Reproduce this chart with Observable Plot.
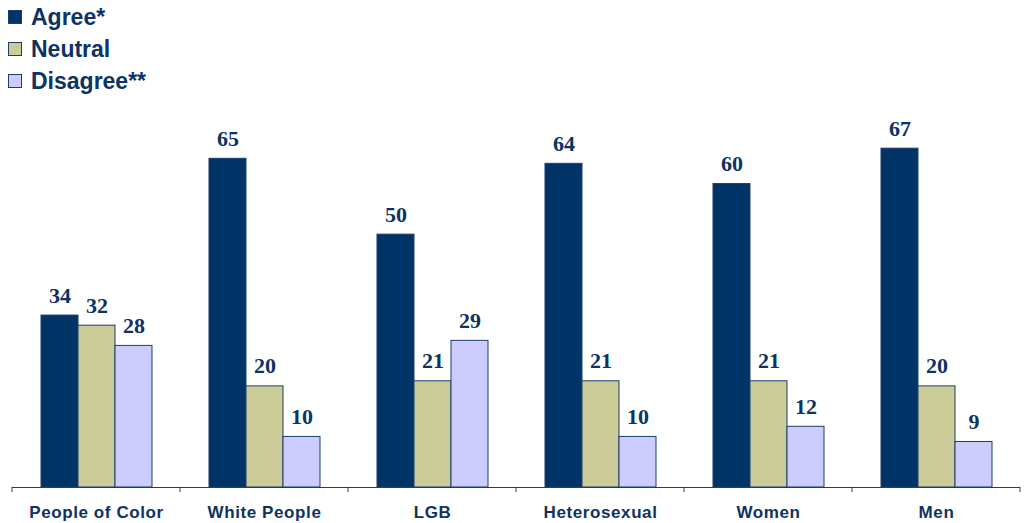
<!DOCTYPE html>
<html>
<head>
<meta charset="utf-8">
<script src="https://cdn.jsdelivr.net/npm/d3@7"></script>
<script src="https://cdn.jsdelivr.net/npm/@observablehq/plot@0.6"></script>
<style>
  html, body { margin: 0; padding: 0; background: #fff; }
  #legend { position: relative; height: 100px; width: 1025px; font-family: "Liberation Sans", Arial, sans-serif; }
  .sw { position: absolute; left: 8px; width: 12px; height: 12px; border: 1px solid #1d3d6b; }
  .lab { position: absolute; left: 31px; font-weight: bold; font-size: 23px; color: #0e3263; white-space: nowrap; line-height: 24px; }
</style>
</head>
<body>
<div id="legend"></div>
<div id="chart"></div>
<script>
const categories = ["People of Color", "White People", "LGB", "Heterosexual", "Women", "Men"];
const series = ["Agree*", "Neutral", "Disagree**"];
const agree = [34, 65, 50, 64, 60, 67];
const neutral = [32, 20, 21, 21, 21, 20];
const disagree = [28, 10, 29, 10, 12, 9];
const colors = ["#003366", "#CCCC99", "#CCCCFF"];

const values = [agree, neutral, disagree];
const data = categories.flatMap((c, i) => series.map((s, j) => ({category: c, series: s, value: values[j][i]})));

// legend
const legend = document.getElementById("legend");
const legendY = [17, 49, 81];
series.forEach((s, j) => {
  const sw = document.createElement("div");
  sw.className = "sw";
  sw.style.top = (legendY[j] - 7) + "px";
  sw.style.background = colors[j];
  legend.appendChild(sw);
  const lab = document.createElement("div");
  lab.className = "lab";
  lab.style.top = (legendY[j] - 12) + "px";
  lab.textContent = s;
  legend.appendChild(lab);
});

const navy = "#0e3263";
const plot = Plot.plot({
  width: 1025,
  height: 423,
  marginLeft: 12,
  marginRight: 5,
  marginTop: 33,
  marginBottom: 36,
  fx: {domain: categories, padding: 0, label: null, axis: null},
  x: {domain: series, paddingInner: 0, paddingOuter: 0.75, axis: null},
  y: {domain: [0, 70], axis: null},
  color: {domain: series, range: colors},
  marks: [
    Plot.barY(data, {fx: "category", x: "series", y: "value", fill: "series", stroke: "#1d3d6b", strokeWidth: 1}),
    Plot.text(data, {fx: "category", x: "series", y: "value", text: d => String(d.value), dy: -13, lineAnchor: "bottom",
      fontFamily: "Liberation Serif, Times New Roman, serif", fontWeight: "bold", fontSize: 22, fill: navy}),
    Plot.ruleY([0], {stroke: "#1d3d6b", strokeWidth: 1}),
    Plot.axisFx({anchor: "bottom", tickSize: 0, tickPadding: 18, label: null,
      fontFamily: "Liberation Sans, Arial, sans-serif", fontWeight: "bold", fontSize: 17, fill: navy})
  ]
});

// boundary ticks below the baseline, from the library's scales
const fxs = plot.scale("fx");
const ys = plot.scale("y");
const y0 = ys.apply(0);
const bounds = categories.map(c => fxs.apply(c)).concat([fxs.apply(categories[categories.length - 1]) + fxs.bandwidth]);
const svg = d3.select(plot);
svg.append("g").selectAll("line").data(bounds).join("line")
  .attr("x1", d => d).attr("x2", d => d)
  .attr("y1", y0).attr("y2", y0 + 5)
  .attr("stroke", "#1d3d6b").attr("stroke-width", 1);
svg.selectAll("text").filter(function() { return this.closest("[aria-label^='fx-axis']"); }).attr("letter-spacing", "0.6px");

document.getElementById("chart").appendChild(plot);
</script>
</body>
</html>
